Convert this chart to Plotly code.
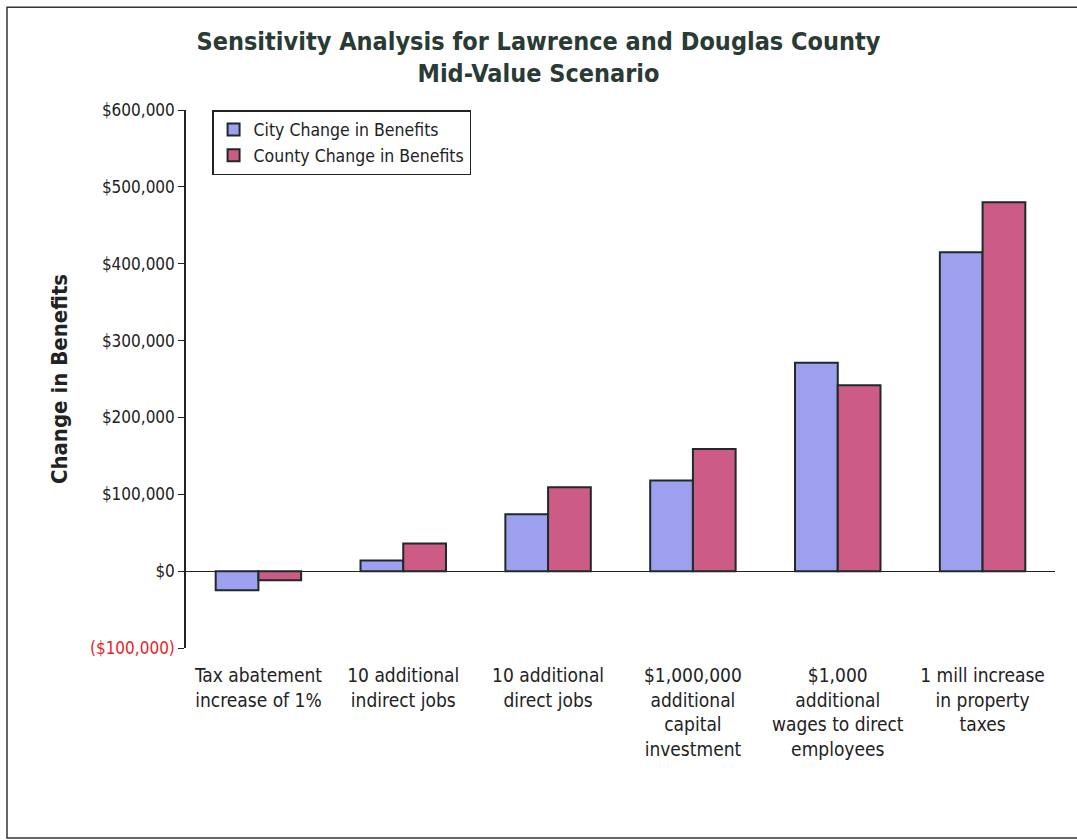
import plotly.graph_objects as go

categories = ["Tax abatement<br>increase of 1%", "10 additional<br>indirect jobs", "10 additional<br>direct jobs",
              "$1,000,000<br>additional<br>capital<br>investment", "$1,000<br>additional<br>wages to direct<br>employees",
              "1 mill increase<br>in property<br>taxes"]
city = [-25000, 14000, 74000, 118000, 271000, 415000]
county = [-12000, 36000, 109000, 159000, 242000, 480000]
tick_vals = [-100000, 0, 100000, 200000, 300000, 400000, 500000, 600000]
tick_text = ["<span style='color:#e8231f'>($100,000)</span>", "$0", "$100,000", "$200,000", "$300,000",
             "$400,000", "$500,000", "$600,000"]

FONT = "DejaVu Sans Condensed, DejaVu Sans, sans-serif"

fig = go.Figure()
fig.add_bar(x=categories, y=city, name="City Change in Benefits",
            marker=dict(color="#9ca0ee", line=dict(color="#1f2a28", width=2)))
fig.add_bar(x=categories, y=county, name="County Change in Benefits",
            marker=dict(color="#cc5b86", line=dict(color="#1f2a28", width=2)))

fig.update_layout(
    width=1077, height=840,
    paper_bgcolor="white", plot_bgcolor="white",
    margin=dict(l=186, r=22, t=110, b=192),
    font=dict(family=FONT, size=16, color="#222"),
    title=dict(text="<b>Sensitivity Analysis for Lawrence and Douglas County<br>Mid-Value Scenario</b>",
               x=0.5, xanchor="center", y=0.941, yanchor="top",
               font=dict(family=FONT, size=25, color="#2a3a35")),
    barmode="group", bargap=0.41, bargroupgap=0,
    showlegend=True,
    legend=dict(x=0.03, y=1.0, xanchor="left", yanchor="top",
                bordercolor="#222", borderwidth=1.5, bgcolor="white",
                font=dict(family=FONT, size=17.5, color="#222"),
                tracegroupgap=2),
    xaxis=dict(showline=False, ticks="", showgrid=False, zeroline=False,
               ticklabelstandoff=14,
               tickfont=dict(family=FONT, size=19, color="#222")),
    yaxis=dict(range=[-100000, 600000], tickvals=tick_vals, ticktext=tick_text,
               showline=True, linecolor="#222", linewidth=1.5, ticks="outside", ticklen=6,
               tickcolor="#222", showgrid=False, zeroline=True, zerolinecolor="#222",
               zerolinewidth=1.2,
               title=dict(text="<b>Change in Benefits</b>", font=dict(family=FONT, size=22, color="#222"),
                          standoff=16),
               tickfont=dict(family=FONT, size=17, color="#222")),
)

fig.add_shape(type="rect", xref="paper", yref="paper",
              x0=-0.206, x1=1.029, y0=-0.353, y1=1.191,
              line=dict(color="#333", width=1.5), fillcolor="rgba(0,0,0,0)", layer="below")

fig.write_html("out.html")
